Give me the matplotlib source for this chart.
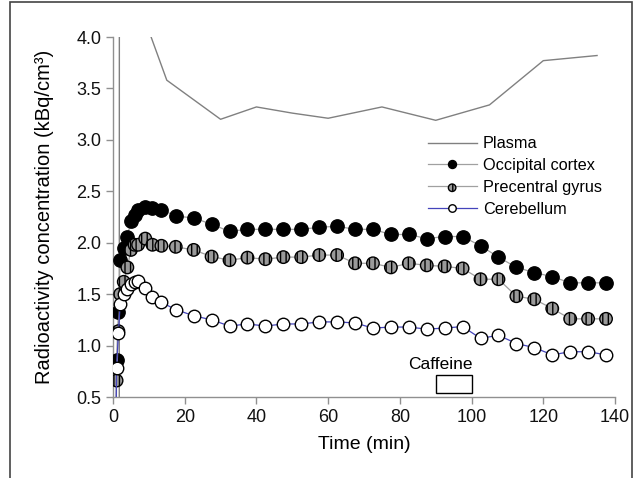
import matplotlib
matplotlib.use("Agg")
import matplotlib.pyplot as plt
from matplotlib.patches import Rectangle
from matplotlib.legend_handler import HandlerTuple

plt.rcParams['font.family'] = ['Liberation Sans', 'DejaVu Sans']

# ---- data ----
t_tissue = [0.75, 1, 1.5, 2, 3, 4, 5, 6, 7, 9, 11, 13.5, 17.5, 22.5, 27.5, 32.5, 37.5, 42.5,
            47.5, 52.5, 57.5, 62.5, 67.5, 72.5, 77.5, 82.5, 87.5, 92.5, 97.5, 102.5,
            107.5, 112.5, 117.5, 122.5, 127.5, 132.5, 137.5]
occipital = [0.0, 0.86, 1.33, 1.83, 1.95, 2.06, 2.21, 2.27, 2.32, 2.35, 2.34, 2.32, 2.26, 2.24,
             2.18, 2.11, 2.13, 2.13, 2.13, 2.13, 2.15, 2.16, 2.13, 2.13, 2.08, 2.08, 2.04,
             2.06, 2.06, 1.97, 1.86, 1.76, 1.71, 1.67, 1.61, 1.61, 1.61]
precentral = [0.0, 0.66, 1.14, 1.50, 1.62, 1.76, 1.93, 1.98, 1.98, 2.04, 1.98, 1.97, 1.96, 1.93,
              1.865, 1.83, 1.855, 1.84, 1.86, 1.86, 1.88, 1.88, 1.80, 1.80, 1.76, 1.80, 1.78,
              1.77, 1.75, 1.645, 1.645, 1.48, 1.45, 1.36, 1.26, 1.26, 1.26]
cerebellum = [0.0, 0.78, 1.12, 1.40, 1.50, 1.55, 1.60, 1.62, 1.63, 1.56, 1.47, 1.42, 1.35, 1.29,
              1.25, 1.19, 1.21, 1.19, 1.21, 1.21, 1.23, 1.23, 1.22, 1.17, 1.18, 1.18, 1.16,
              1.17, 1.185, 1.07, 1.10, 1.02, 0.98, 0.91, 0.94, 0.94, 0.91]
t_plasma = [1.75, 2.0, 10, 15, 30, 40, 50, 60, 75, 90, 105, 120, 135]
plasma = [0.0, 45.0, 4.06, 3.58, 3.20, 3.32, 3.26, 3.21, 3.32, 3.19, 3.34, 3.77, 3.82]

caffeine_start, caffeine_end = 90, 100

xticks = [0, 20, 40, 60, 80, 100, 120, 140]
yticks = [0.5, 1.0, 1.5, 2.0, 2.5, 3.0, 3.5, 4.0]

# ---- figure ----
fig = plt.figure(figsize=(6.42, 4.78), dpi=100)
ax = fig.add_axes([113/642, 1-397/478, (615-113)/642, (397-37)/478])

line_gray = '#a0a0a0'
ms_big = 9.6
ms = 9.0

lp, = ax.plot(t_plasma, plasma, color='#808080', lw=1.0, label='Plasma', zorder=2)
lo, = ax.plot(t_tissue, occipital, color=line_gray, lw=0.9, marker='o', ms=ms_big,
              mfc='black', mec='black', label='Occipital cortex', zorder=3)
lpl, = ax.plot(t_tissue, precentral, color=line_gray, lw=0.9, zorder=3)
sp = ax.scatter(t_tissue, precentral, s=ms**2, facecolor='#9a9a9a', edgecolor='black',
                linewidths=1.0, hatch='|||', zorder=4)
lc, = ax.plot(t_tissue, cerebellum, color='#4444bb', lw=0.9, marker='o', ms=ms,
              mfc='white', mec='black', mew=1.0, label='Cerebellum', zorder=5)

ax.add_patch(Rectangle((caffeine_start, 0.54), caffeine_end - caffeine_start, 0.17,
                       facecolor='white', edgecolor='black', lw=1.0, zorder=6))
ax.text((caffeine_start + caffeine_end) / 2 - 3.8, 0.74, 'Caffeine', ha='center', va='bottom',
        fontsize=12.5)

ax.set_xlim(0, 140)
ax.set_ylim(0.5, 4.0)
ax.set_xticks(xticks)
ax.set_yticks(yticks)
ax.set_xticklabels([str(v) for v in xticks])
ax.set_yticklabels([f'{v:.1f}' for v in yticks])
for s in ['top', 'right']:
    ax.spines[s].set_visible(False)
for s in ['left', 'bottom']:
    ax.spines[s].set_color('#909090')
    ax.spines[s].set_linewidth(1.0)
ax.tick_params(direction='out', length=5, width=1.0, color='#909090', labelsize=13,
               labelcolor='#111111')
ax.set_xlabel('Time (min)', fontsize=14, labelpad=7)
ax.set_ylabel('Radioactivity concentration (kBq/cm³)', fontsize=14.5, labelpad=16)

leg = ax.legend([lp, lo, (lpl, sp), lc],
                ['Plasma', 'Occipital cortex', 'Precentral gyrus', 'Cerebellum'],
                handler_map={tuple: HandlerTuple(ndivide=1, pad=0)},
                loc='upper left', bbox_to_anchor=(0.627, 0.724), frameon=False,
                fontsize=11.7, markerscale=0.6, handlelength=3.0, handletextpad=0.4,
                labelspacing=0.42, borderpad=0, borderaxespad=0)

fig.patches.append(Rectangle((10/642, -0.05), (632-10)/642, 1.05 - 2/478,
                             transform=fig.transFigure, fill=False, edgecolor='#444444',
                             lw=1.2, figure=fig))

fig.savefig('out.png', dpi=100)
